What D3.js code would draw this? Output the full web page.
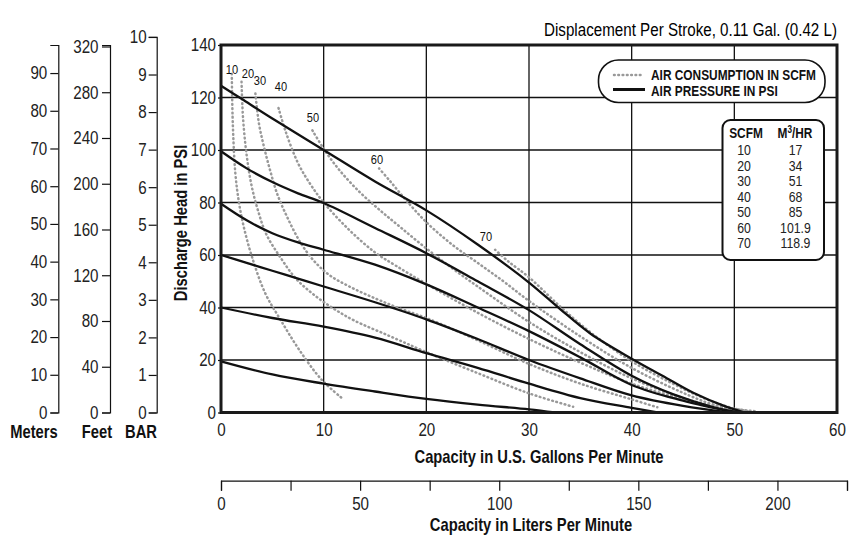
<!DOCTYPE html>
<html>
<head lang="en">
    <meta charset="UTF-8">
    <title>Pump performance curve</title>
    <script src="https://cdn.jsdelivr.net/npm/d3@7"></script>
    <style>
        body{margin:0;background:#fff;}
        svg{font-family:"Liberation Sans",Arial,sans-serif;}
        .grid line{stroke:#111;stroke-width:1.3px;}
        .psi{fill:none;stroke:#111;stroke-width:2.3px;}
        .scfm{fill:none;stroke:#999;stroke-width:2.5px;stroke-dasharray:0.7 3.6;stroke-linecap:round;}
        .ax path,.ax line{stroke:#111;stroke-width:1.2px;fill:none;}
        .ax text{font-size:18.5px;fill:#222;font-family:inherit;}
        .ttl{font-weight:bold;font-size:18px;fill:#111;}
        .lbl{font-size:13.5px;fill:#111;}
    </style>
</head>
<body>
<script>
    // axis ticks
    var gpmTicks=[0,10,20,30,40,50,60];
    var psiTicks=[0,20,40,60,80,100,120,140];
    var literTicks=[0,25,50,75,100,125,150,175,200,225];
    var meterTicks=[0,10,20,30,40,50,60,70,80,90];
    var feetTicks=[0,40,80,120,160,200,240,280,320];
    var barTicks=[0,1,2,3,4,5,6,7,8,9,10];

    // air pressure curves, [gpm, psi discharge head]
    var psi20=[[0,19.5],[5,14.5],[10,11],[15,8],[20,5.2],[25,3],[30,1.2],[32.5,0]];
    var psi40=[[0,40],[5,36],[10,32.7],[15,28.5],[20,22.6],[25,17],[30,11],[35,5.5],[40,1.8],[42.5,0]];
    var psi60=[[0,60],[2.5,57],[5,54],[7.5,51],[10,48],[15,42],[20,35.5],[25,28],[30,20],[35,13],[40,6.5],[45,2.5],[49.5,0]];
    var psi80=[[0,79.5],[2.5,73.2],[5,68.3],[7.5,64.8],[10,62],[15,56.3],[20,48.8],[25,40],[30,31],[35,21],[40,10.5],[45,4.5],[50,0]];
    var psi100=[[0,99.5],[2.5,93],[5,87.8],[7.5,83.5],[10,79.8],[15,70.3],[20,60.7],[25,50],[30,39],[35,26],[40,14],[44,7],[48,2],[50.5,0]];
    var psi120=[[0,124.5],[2,119.5],[5,112],[10,100],[15,88],[20,77],[25,64],[30,49.5],[33,39.5],[36,30],[40,20.5],[43,14],[46,7.5],[49,2.5],[51,0]];

    // air consumption curves, [gpm, psi]
    var scfm10=[[1.05,129],[1.15,110],[1.4,91],[1.75,80],[2.2,71],[3,59.5],[4.3,45.5],[5.8,35.3],[7.6,24],[9.8,12.5],[11.8,5.4]];
    var scfm20=[[2.0,126],[2.15,112],[2.5,98],[3.0,86],[3.6,77],[4.4,68],[5.8,59],[7.3,51],[9,45],[11,39.5],[13,35],[16.5,29],[20,23],[25,15],[30,7.3],[34.3,2.2]];
    var scfm30=[[3.35,121.5],[3.7,110],[4.2,101],[4.8,92],[5.5,83],[6.5,74],[7.7,65],[9,58],[10.5,52.5],[12.5,48],[15,43.5],[17.5,39.5],[20,36],[25,27.5],[30,18.5],[35,11],[40,5],[42.5,2]];
    var scfm40=[[5.6,116],[6.3,107],[7.5,95],[8.7,87],[10,80],[12.5,69.5],[15,61],[17,56],[20,49],[25,38],[30,28],[35,19],[40,11],[45,5],[48,2],[50.5,0.3]];
    var scfm50=[[8.9,107.5],[10,100.5],[11.5,92.5],[13.5,84],[15.5,77],[17.5,70.5],[20,62.5],[22.5,55],[25,48],[30,34.5],[35,23],[40,13],[45,5.5],[48,2.5],[51,0.5]];
    var scfm60=[[15.4,93],[16.5,88],[18,81],[20,72.5],[22.5,64],[25,57],[27.5,50],[30,42.5],[35,29],[40,17],[45,7.5],[48,3],[51.5,0.5]];
    var scfm70=[[26.7,62],[28,57.5],[30,51.5],[33,40.5],[36,30.5],[40,19.5],[44,11],[47,5.5],[50,1.5],[52,0.5]];

    // curve label anchors [gpm, psi]
    var scfmNames=["10","20","30","40","50","60","70"];
    var scfmLabelAt=[[1.07,130.6],[2.63,129.1],[3.8,126.5],[5.84,124.2],[8.96,112.3],[15.19,96.3],[25.81,67.3]];

    // conversion table
    var tableScfm=["10","20","30","40","50","60","70"];
    var tableM3=["17","34","51","68","85","101.9","118.9"];

    var psiCurves=[psi20,psi40,psi60,psi80,psi100,psi120];
    var scfmCurves=[scfm10,scfm20,scfm30,scfm40,scfm50,scfm60,scfm70];

    var W=868,H=538;
    var _svg=d3.select("body").append("svg").attr("width",W).attr("height",H);

    var x=d3.scaleLinear().domain([0,60]).range([221,837]);
    var y=d3.scaleLinear().domain([0,140]).range([412.5,45]);
    var lpm=d3.scaleLinear().domain([0,225]).range([221,847]);

    // grid
    var _grid=_svg.append("g").attr("class","grid");
    _grid.selectAll(".gv").data(gpmTicks.slice(1,-1)).enter().append("line")
        .attr("x1",function(d){return x(d);}).attr("x2",function(d){return x(d);})
        .attr("y1",y(0)).attr("y2",y(140));
    _grid.selectAll(".gh").data(psiTicks.slice(1,-1)).enter().append("line")
        .attr("x1",x(0)).attr("x2",x(60))
        .attr("y1",function(d){return y(d);}).attr("y2",function(d){return y(d);});

    var _line=d3.line()
        .x(function(d){return x(d[0]);})
        .y(function(d){return y(d[1]);})
        .curve(d3.curveCatmullRom.alpha(0.5));

    _svg.append("g").selectAll("path").data(scfmCurves).enter().append("path")
        .attr("class","scfm").attr("d",_line);
    _svg.append("g").selectAll("path").data(psiCurves).enter().append("path")
        .attr("class","psi").attr("d",_line);

    _svg.append("g").selectAll("text").data(scfmLabelAt).enter().append("text")
        .attr("class","lbl")
        .attr("x",function(d){return x(d[0]);})
        .attr("y",function(d){return y(d[1]);})
        .attr("dy","0.35em").attr("text-anchor","middle")
        .text(function(d,i){return scfmNames[i];});

    // frame
    _svg.append("rect").attr("x",x(0)).attr("y",y(140))
        .attr("width",x(60)-x(0)).attr("height",y(0)-y(140))
        .attr("fill","none").attr("stroke","#1a1a1a").attr("stroke-width",3);

    // psi axis labels
    var _ya=_svg.append("g").attr("class","ax").attr("transform","translate("+x(0)+",0)")
        .call(d3.axisLeft(y).tickValues(psiTicks).tickSize(3).tickPadding(2));
    _ya.select(".domain").remove();

    // gpm axis labels
    var _xa=_svg.append("g").attr("class","ax").attr("transform","translate(0,"+y(0)+")")
        .call(d3.axisBottom(x).tickValues(gpmTicks).tickSize(0).tickPadding(10));
    _xa.select(".domain").remove();

    // liters axis
    _svg.append("g").attr("class","ax").attr("transform","translate(0,480.7)")
        .call(d3.axisBottom(lpm).tickValues(literTicks).tickSize(10).tickSizeOuter(10).tickPadding(6.5)
            .tickFormat(function(d){return (d%50===0&&d<=200)?d:"";}));

    // left unit axes
    var mPerPsi=0.696,ftPerPsi=2.295,barPerPsi=0.0699;
    var yM=d3.scaleLinear().domain([0,140*mPerPsi]).range([y(0),y(140)]);
    var yF=d3.scaleLinear().domain([0,140*ftPerPsi]).range([y(0),y(140)]);
    var yB=d3.scaleLinear().domain([0,10]).range([y(0),y(10/barPerPsi)]);
    _svg.append("g").attr("class","ax").attr("transform","translate(58.3,0)")
        .call(d3.axisLeft(yM).tickValues(meterTicks).tickSize(8).tickSizeOuter(8).tickPadding(3));
    _svg.append("g").attr("class","ax").attr("transform","translate(110,0)")
        .call(d3.axisLeft(yF).tickValues(feetTicks).tickSize(8).tickSizeOuter(8).tickPadding(3.5));
    _svg.append("g").attr("class","ax").attr("transform","translate(156.7,0)")
        .call(d3.axisLeft(yB).tickValues(barTicks).tickSize(8).tickSizeOuter(8).tickPadding(2));

    // titles
    _svg.append("text").attr("class","ttl").attr("x",34).attr("y",438).attr("text-anchor","middle").text("Meters");
    _svg.append("text").attr("class","ttl").attr("x",97).attr("y",438).attr("text-anchor","middle").text("Feet");
    _svg.append("text").attr("class","ttl").attr("x",141).attr("y",438).attr("text-anchor","middle").text("BAR");
    _svg.append("text").attr("class","ttl").attr("text-anchor","middle")
        .attr("transform","translate(187,223) rotate(-90)").text("Discharge Head in PSI");
    _svg.append("text").attr("class","ttl").attr("x",539).attr("y",463).attr("text-anchor","middle")
        .text("Capacity in U.S. Gallons Per Minute");
    _svg.append("text").attr("class","ttl").attr("x",531).attr("y",531.5).attr("text-anchor","middle")
        .text("Capacity in Liters Per Minute");
    _svg.append("text").attr("x",837).attr("y",36).attr("text-anchor","end")
        .style("font-size","18.5px").style("fill","#000")
        .text("Displacement Per Stroke, 0.11 Gal. (0.42 L)");

    // legend
    var _lg=_svg.append("g");
    _lg.append("rect").attr("x",598.5).attr("y",60).attr("width",226.5).attr("height",42.5)
        .attr("rx",20).attr("fill","#fff").attr("stroke","#111").attr("stroke-width",1.6);
    _lg.append("line").attr("class","scfm").attr("x1",614).attr("x2",643).attr("y1",75).attr("y2",75);
    _lg.append("line").attr("class","psi").attr("x1",613).attr("x2",645).attr("y1",89.5).attr("y2",89.5).style("stroke-width",3);
    _lg.append("text").attr("x",651).attr("y",80).style("font-weight","bold").style("font-size","14.5px").style("fill","#111")
        .text("AIR CONSUMPTION IN SCFM");
    _lg.append("text").attr("x",651).attr("y",96).style("font-weight","bold").style("font-size","14.5px").style("fill","#111")
        .text("AIR PRESSURE IN PSI");

    // conversion table
    var _tb=_svg.append("g");
    _tb.append("rect").attr("x",722.5).attr("y",120).attr("width",101.5).attr("height",140)
        .attr("rx",8).attr("fill","#fff").attr("stroke","#111").attr("stroke-width",2);
    _tb.append("text").attr("x",746).attr("y",138.5).attr("text-anchor","middle")
        .style("font-weight","bold").style("font-size","14.5px").style("fill","#111").text("SCFM");
    var _hd=_tb.append("text").attr("x",795).attr("y",138.5).attr("text-anchor","middle")
        .style("font-weight","bold").style("font-size","14.5px").style("fill","#111");
    _hd.append("tspan").text("M");
    _hd.append("tspan").attr("dy",-5).style("font-size","10px").text("3");
    _hd.append("tspan").attr("dy",5).text("/HR");
    _tb.selectAll(".c1").data(tableScfm).enter().append("text")
        .attr("x",744).attr("y",function(d,i){return 155.5+i*15.5;}).attr("text-anchor","middle")
        .style("font-size","15px").style("fill","#222").text(function(d){return d;});
    _tb.selectAll(".c2").data(tableM3).enter().append("text")
        .attr("x",795.5).attr("y",function(d,i){return 155.5+i*15.5;}).attr("text-anchor","middle")
        .style("font-size","15px").style("fill","#222").text(function(d){return d;});

    // squeeze every text horizontally, like a narrow face, keeping its anchor point
    _svg.selectAll("text").each(function(){
        var t=d3.select(this);
        var ax=+t.attr("x")||0;
        var tr=t.attr("transform")||"";
        t.attr("transform",tr+" translate("+ax+",0) scale(0.82,1) translate("+(-ax)+",0)");
    });
</script>
</body>
</html>
